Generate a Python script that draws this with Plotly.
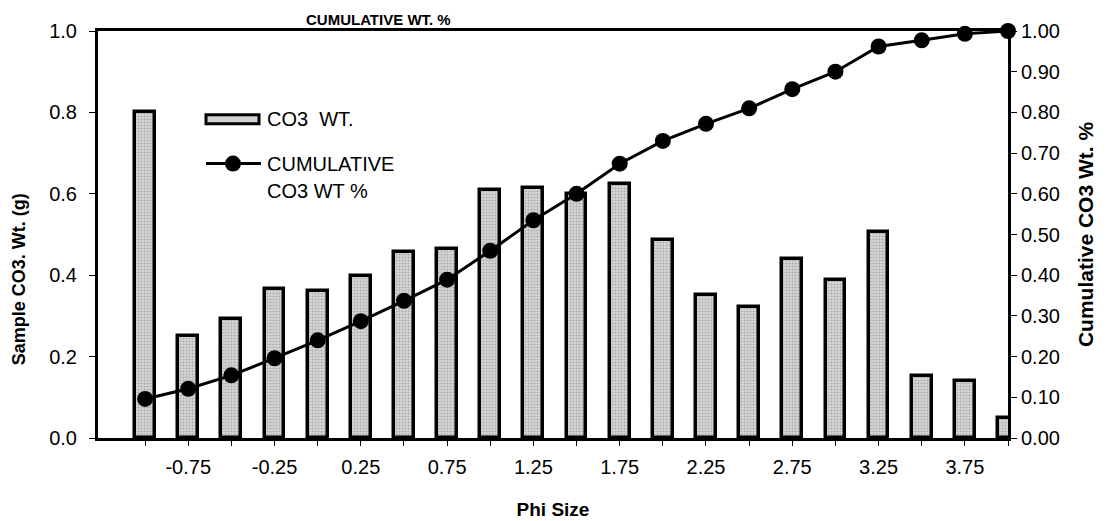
import plotly.graph_objects as go

# ---- data ----
phi_size = [-1.0, -0.75, -0.5, -0.25, 0.0, 0.25, 0.5, 0.75, 1.0, 1.25, 1.5,
            1.75, 2.0, 2.25, 2.5, 2.75, 3.0, 3.25, 3.5, 3.75, 4.0]
co3_wt = [0.80, 0.25, 0.293, 0.365, 0.362, 0.398, 0.457, 0.465, 0.609, 0.614, 0.60,
          0.623, 0.487, 0.351, 0.323, 0.44, 0.389, 0.505, 0.153, 0.14, 0.05]
cum_wt_pct = [0.096, 0.121, 0.154, 0.196, 0.240, 0.287, 0.337, 0.389, 0.46, 0.535, 0.60,
              0.674, 0.73, 0.772, 0.81, 0.857, 0.90, 0.962, 0.977, 0.993, 1.0]
x_labels = ["", "-0.75", "", "-0.25", "", "0.25", "", "0.75", "", "1.25", "",
            "1.75", "", "2.25", "", "2.75", "", "3.25", "", "3.75", ""]

FONT = "Arial, Liberation Sans, sans-serif"

fig = go.Figure()

fig.add_trace(go.Bar(
    x=phi_size, y=co3_wt, name="CO3  WT.",
    width=0.115,
    marker=dict(color="#d0d0d0",
                line=dict(color="black", width=3.5),
                pattern=dict(shape=".", fgcolor="#808080", bgcolor="#d8d8d8",
                             size=3, solidity=0.4)),
    showlegend=False,
))

fig.add_trace(go.Scatter(
    x=phi_size, y=cum_wt_pct, yaxis="y2", name="CUMULATIVE CO3 WT %",
    mode="lines+markers",
    line=dict(color="black", width=3),
    marker=dict(color="black", size=16),
    cliponaxis=False,
    showlegend=False,
))

# ---- hand-made legend (wide swatches like the original) ----
def px_x(p):
    return (p - 90) / 910

def px_y(p):
    return (434 - p) / 413

shapes = [
    dict(type="rect", xref="paper", yref="paper",
         x0=px_x(198), x1=px_x(251), y0=px_y(115), y1=px_y(106),
         fillcolor="#d0d0d0", line=dict(color="black", width=3)),
    dict(type="line", xref="paper", yref="paper",
         x0=px_x(198), x1=px_x(253), y0=px_y(155.5), y1=px_y(155.5),
         line=dict(color="black", width=3)),
    dict(type="circle", xref="paper", yref="paper",
         xsizemode="pixel", ysizemode="pixel",
         xanchor=px_x(225), yanchor=px_y(155.5),
         x0=-8, x1=8, y0=-8, y1=8,
         fillcolor="black", line=dict(color="black", width=0)),
]

annotations = [
    dict(text="CO3  WT.", xref="paper", yref="paper", x=px_x(257), y=px_y(110),
         xanchor="left", yanchor="middle", showarrow=False,
         font=dict(size=20, color="black", family=FONT)),
    dict(text="CUMULATIVE", xref="paper", yref="paper", x=px_x(257), y=px_y(156),
         xanchor="left", yanchor="middle", showarrow=False,
         font=dict(size=20, color="black", family=FONT)),
    dict(text="CO3 WT %", xref="paper", yref="paper", x=px_x(257), y=px_y(183),
         xanchor="left", yanchor="middle", showarrow=False,
         font=dict(size=20, color="black", family=FONT)),
    # left axis title sits a little low in the original
    dict(text="<b>Sample CO3. Wt. (g)</b>", xref="paper", yref="paper",
         x=px_x(11), y=px_y(273), xanchor="center", yanchor="middle",
         textangle=-90, showarrow=False,
         font=dict(size=18, color="black", family=FONT)),
    # chart title squeezed in above the frame
    dict(text="<b>CUMULATIVE WT. %</b>", xref="paper", yref="paper",
         x=px_x(296), y=1 + 1 / 413, xanchor="left", yanchor="bottom",
         showarrow=False, font=dict(size=15, color="black", family=FONT)),
]

fig.update_layout(
    width=1106, height=521,
    margin=dict(l=90, r=106, t=21, b=87),
    paper_bgcolor="white", plot_bgcolor="white",
    font=dict(family=FONT, size=20, color="black"),
    bargap=0,
    xaxis=dict(
        range=[-1.273, 4.0],
        tickvals=phi_size, ticktext=x_labels,
        ticks="outside", ticklen=5, tickwidth=1, tickcolor="black",
        ticklabelstandoff=4,
        showline=True, linecolor="black", linewidth=3, mirror=True,
        showgrid=False, zeroline=False,
        title=dict(text="<b>Phi Size</b>", font=dict(size=19), standoff=26),
    ),
    yaxis=dict(
        range=[0, 1.0], dtick=0.2, tickformat=".1f",
        ticks="outside", ticklen=6, tickwidth=1, tickcolor="black",
        ticklabelstandoff=8,
        showline=True, linecolor="black", linewidth=3,
        showgrid=False, zeroline=False,
    ),
    yaxis2=dict(
        range=[0, 1.0], dtick=0.1, tickformat=".2f",
        overlaying="y", side="right",
        ticks="outside", ticklen=6, tickwidth=1, tickcolor="black",
        showline=True, linecolor="black", linewidth=3,
        showgrid=False, zeroline=False,
        title=dict(text="<b>Cumulative CO3 Wt. %</b>", font=dict(size=21), standoff=20),
    ),
    # inner half of the crossing ticks on the right axis
    yaxis3=dict(
        range=[0, 1.0], dtick=0.1, overlaying="y", side="right",
        ticks="inside", ticklen=6, tickwidth=1, tickcolor="black",
        showticklabels=False, showline=False, showgrid=False, zeroline=False,
    ),
    shapes=shapes,
    annotations=annotations,
)

fig.write_html("out.html")
